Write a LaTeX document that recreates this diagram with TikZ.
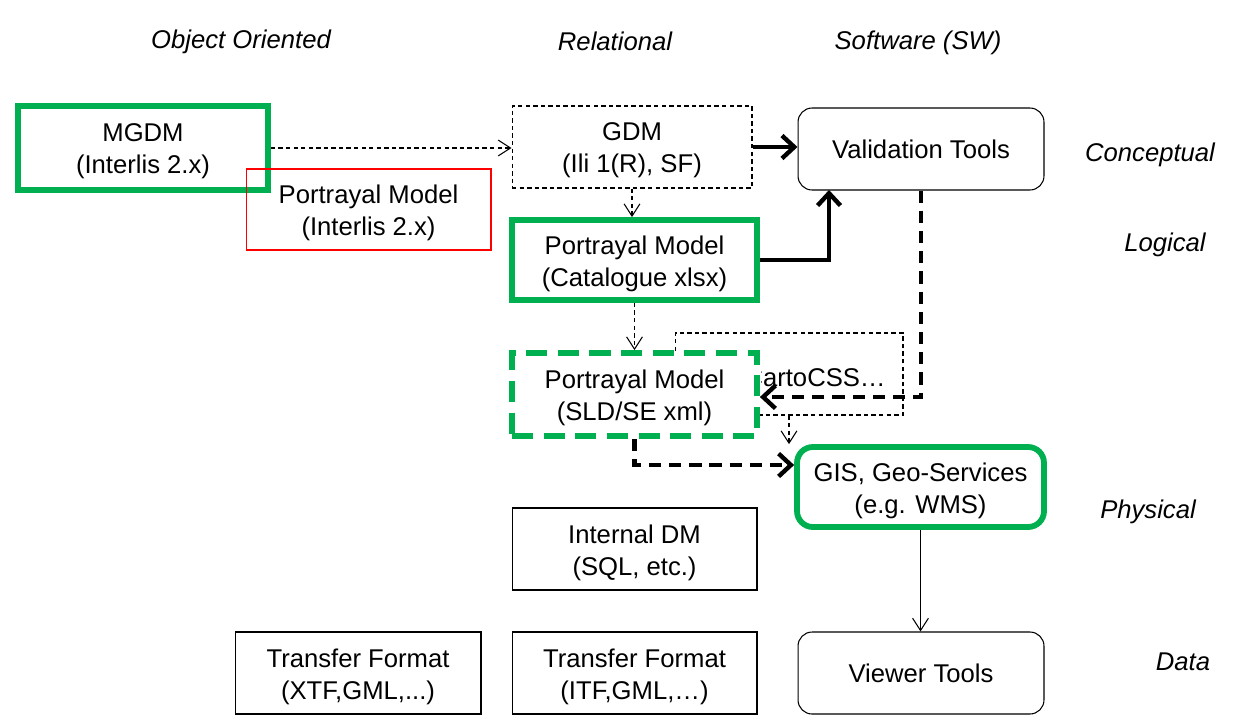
\documentclass[tikz,border=0pt]{standalone}
\usepackage{fontspec}
\setmainfont{Liberation Sans}
\usetikzlibrary{arrows.meta}
\definecolor{ggreen}{HTML}{00B050}
\definecolor{rred}{HTML}{FF0000}
\begin{document}
\begin{tikzpicture}[x=0.02cm,y=-0.02cm,
  every node/.style={font=\fontsize{14.6}{18.2}\selectfont, align=center, inner sep=0pt},
  every label/.style={font=\fontsize{14.6}{18.2}\selectfont, align=center, inner sep=0pt},
  txt/.style={label={[yshift=-0.07cm]center:{#1}}},
  box/.style={draw, line width=0.6pt, fill=white},
  gbox/.style={draw=ggreen, line width=3.3pt, fill=white},
  hdr/.style={font=\fontsize{14.6}{18}\selectfont\itshape},
  thinarr/.style={line width=0.6pt, dash pattern=on 2.5pt off 1.8pt, -{Straight Barb[length=7pt,width=9pt]}},
  thickarr/.style={line width=2.5pt, -{Straight Barb[length=7pt,width=13pt]}},
  thickdash/.style={line width=2.5pt, dash pattern=on 7pt off 4.5pt, -{Straight Barb[length=7pt,width=13pt]}},
]
\useasboundingbox (0,0) rectangle (1236,724);
% headers
\node[hdr] (hoo) at (241,42) {Object Oriented};
\node[hdr] (hrel) at (615,41) {Relational};
\node[hdr] (hsw) at (918,43) {Software (SW)};
\node[hdr] (hcon) at (1150,155) {Conceptual};
\node[hdr] (hlog) at (1165,245) {Logical};
\node[hdr] (hphy) at (1148,512) {Physical};
\node[hdr] (hdat) at (1183,662) {Data};
% boxes
\node[gbox, minimum width=5cm, minimum height=1.68cm, txt={MGDM\\(Interlis 2.x)}] (mgdm) at (143,148) {};
\node[draw=rred, line width=0.6pt, minimum width=4.9cm, minimum height=1.62cm, txt={Portrayal Model\\(Interlis 2.x)}] (pmi) at (368.5,209.5) {};
\node[box, dash pattern=on 2.5pt off 1.8pt, minimum width=4.8cm, minimum height=1.64cm, txt={GDM\\(Ili 1(R), SF)}] (gdm) at (632,147) {};
\node[box, rounded corners=8pt, minimum width=4.92cm, minimum height=1.64cm] (val) at (921,149) {Validation Tools};
\node[gbox, minimum width=4.9cm, minimum height=1.6cm, txt={Portrayal Model\\(Catalogue xlsx)}] (cat) at (634.5,260) {};
% CartoCSS box (behind SLD)
\node[draw, line width=0.6pt, dash pattern=on 2.5pt off 1.8pt, minimum width=4.56cm, minimum height=1.64cm] (carto) at (789,374) {};
\begin{scope}
\clip (761,340) rectangle (900,410);
\node[anchor=east] (cartotxt) at (886,378) {CartoCSS…};
\end{scope}
\node[draw=ggreen, line width=3.3pt, fill=white, dash pattern=on 12pt off 6pt, minimum width=4.9cm, minimum height=1.66cm, txt={Portrayal Model\\(SLD/SE xml)}] (sld) at (634.5,394.5) {};
\node[draw=ggreen, line width=3.3pt, fill=white, rounded corners=9pt, minimum width=4.94cm, minimum height=1.6cm, txt={GIS, Geo-Services\\(e.g. WMS)}] (gis) at (920.5,487) {};
\node[box, minimum width=4.9cm, minimum height=1.64cm, txt={Internal DM\\(SQL, etc.)}] (idm) at (634.5,549) {};
\node[box, minimum width=4.92cm, minimum height=1.64cm, txt={Transfer Format\\(XTF,GML,...)}] (tf1) at (358,673) {};
\node[box, minimum width=4.9cm, minimum height=1.64cm, txt={Transfer Format\\(ITF,GML,…)}] (tf2) at (634.5,673) {};
\node[box, rounded corners=8pt, minimum width=4.92cm, minimum height=1.64cm] (view) at (921,673) {Viewer Tools};
% connectors
\coordinate (vin) at (829,190);
\draw[thinarr] (mgdm.east) -- (gdm.west |- mgdm.east);
\draw[thickarr] (gdm.east) -- (val.west |- gdm.east);
\draw[thinarr] (gdm.south) -- (gdm.south |- cat.north);
\draw[thickarr] (cat.east) -| (vin);
\draw[thinarr] (cat.south) -- (cat.south |- sld.north);
\draw[thickdash] (val.south) |- ([yshift=-0.05cm]sld.east);
\draw[thickdash] (sld.south) |- ([yshift=0.44cm]gis.west);
\draw[thinarr] (carto.south) -- (carto.south |- gis.north);
\draw[line width=0.6pt, -{Straight Barb[length=7pt,width=9pt]}] (gis.south) -- (gis.south |- view.north);
\end{tikzpicture}
\end{document}
